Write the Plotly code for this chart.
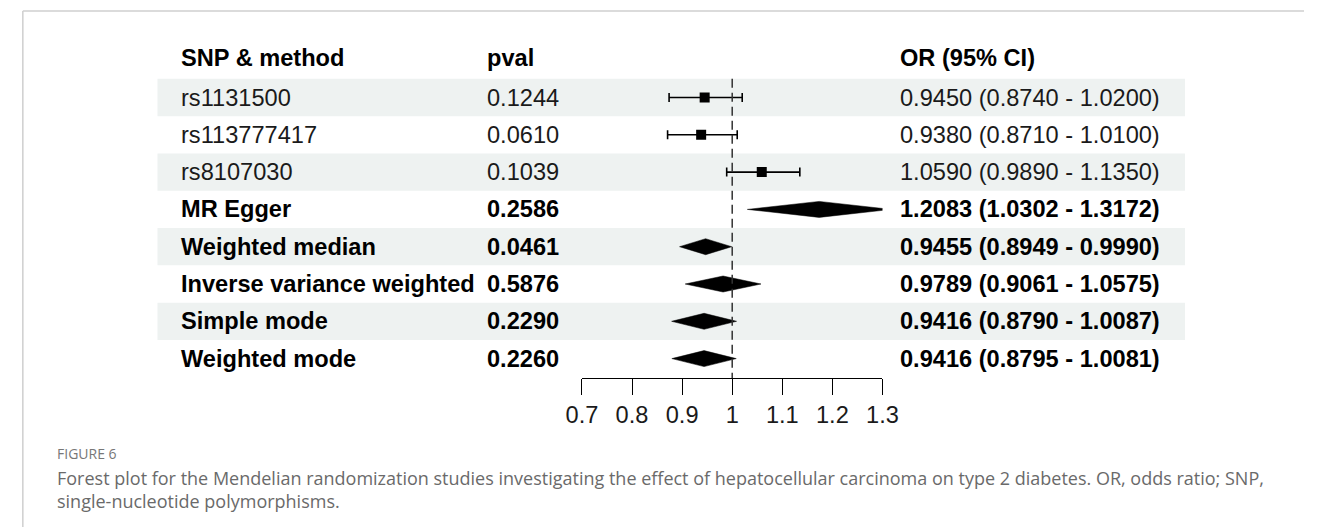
import plotly.graph_objects as go

# ---------------- data ----------------
labels = ["rs1131500", "rs113777417", "rs8107030", "MR Egger", "Weighted median",
          "Inverse variance weighted", "Simple mode", "Weighted mode"]
pvals = ["0.1244", "0.0610", "0.1039", "0.2586", "0.0461", "0.5876", "0.2290", "0.2260"]
or_est = [0.9450, 0.9380, 1.0590, 1.2083, 0.9455, 0.9789, 0.9416, 0.9416]
or_lo = [0.8740, 0.8710, 0.9890, 1.0302, 0.8949, 0.9061, 0.8790, 0.8795]
or_hi = [1.0200, 1.0100, 1.1350, 1.3172, 0.9990, 1.0575, 1.0087, 1.0081]
is_method = [False, False, False, True, True, True, True, True]
headers = ["SNP & method", "pval", "OR (95% CI)"]
tick_vals = [0.7, 0.8, 0.9, 1.0, 1.1, 1.2, 1.3]
tick_text = ["0.7", "0.8", "0.9", "1", "1.1", "1.2", "1.3"]
caption_head = "FIGURE 6"
caption_lines = ["Forest plot for the Mendelian randomization studies investigating the effect of "
                 "hepatocellular carcinoma on type 2 diabetes. OR, odds ratio; SNP,",
                 "single-nucleotide polymorphisms."]

# ---------------- layout geometry ----------------
W, H = 1320, 529
row_h = 37.3
row0 = 97.5          # pixel centre of first row
axis_px = 378        # pixel of the x axis line
x_left, x_right = 580, 888

def px_to_row(p):
    return (p - row0) / row_h

ydom_bottom = 1 - axis_px / H
y_range = [px_to_row(axis_px), px_to_row(0)]

FONT = "Liberation Sans, Arial, sans-serif"
fs = 23.6
col_x = [167 / W, 481 / W, 903.5 / W]
band_x0, band_x1 = 145 / W, 1198 / W

fig = go.Figure()
shapes = []
annotations = []

for i in range(len(labels)):
    if i % 2 == 0:
        shapes.append(dict(type="rect", xref="paper", yref="y", x0=band_x0, x1=band_x1,
                           y0=i - 0.5, y1=i + 0.5, fillcolor="#eef2f1", line_width=0,
                           layer="below"))

shapes.append(dict(type="line", xref="x", yref="y", x0=1, x1=1, y0=-0.5, y1=y_range[0],
                   line=dict(color="#333333", width=1.5, dash="9px,5px")))

# frame
shapes.append(dict(type="line", xref="paper", yref="paper", x0=7 / W, x1=1,
                   y0=1 - 11 / H, y1=1 - 11 / H, line=dict(color="#cfcfcf", width=1.5)))
shapes.append(dict(type="line", xref="paper", yref="paper", x0=7 / W, x1=7 / W,
                   y0=1 - 527 / H, y1=1 - 11 / H, line=dict(color="#cfcfcf", width=1.5)))

snp_idx = [i for i, m in enumerate(is_method) if not m]
fig.add_trace(go.Scatter(
    x=[or_est[i] for i in snp_idx], y=snp_idx, mode="markers",
    marker=dict(symbol="square", size=10, color="black"),
    error_x=dict(type="data", symmetric=False,
                 array=[or_hi[i] - or_est[i] for i in snp_idx],
                 arrayminus=[or_est[i] - or_lo[i] for i in snp_idx],
                 color="black", thickness=1.6, width=4.5),
    showlegend=False, hoverinfo="skip"))

hh = 8 / row_h
for i, m in enumerate(is_method):
    if m:
        mid = (or_lo[i] + or_hi[i]) / 2
        fig.add_trace(go.Scatter(
            x=[or_lo[i], mid, or_hi[i], mid, or_lo[i]],
            y=[i, i - hh, i, i + hh, i],
            mode="lines", fill="toself", fillcolor="black",
            line=dict(color="black", width=0.5),
            showlegend=False, hoverinfo="skip"))

for cx, h in zip(col_x, headers):
    annotations.append(dict(text=f"<b>{h}</b>", xref="paper", yref="y", x=cx, y=-1.06,
                            xanchor="left", yanchor="middle", showarrow=False,
                            font=dict(family=FONT, size=fs, color="black")))
for i in range(len(labels)):
    ci = f"{or_est[i]:.4f} ({or_lo[i]:.4f} - {or_hi[i]:.4f})"
    for cx, t in zip(col_x, [labels[i], pvals[i], ci]):
        txt = f"<b>{t}</b>" if is_method[i] else t
        annotations.append(dict(text=txt, xref="paper", yref="y", x=cx, y=i,
                                xanchor="left", yanchor="middle", showarrow=False,
                                font=dict(family=FONT, size=fs,
                                          color="black" if is_method[i] else "#1a1a1a")))

cap_font = "Open Sans, Lato, sans-serif"
annotations.append(dict(text=caption_head, xref="paper", yref="paper", x=40 / W,
                        y=1 - 453 / H, xanchor="left", yanchor="middle", showarrow=False,
                        font=dict(family=cap_font, size=14, color="#777777")))
annotations.append(dict(text="<br>".join(caption_lines), xref="paper", yref="paper",
                        x=40 / W, y=1 - 489 / H, xanchor="left", yanchor="middle",
                        align="left", showarrow=False,
                        font=dict(family=cap_font, size=18, color="#6a6a6a")))

fig.update_layout(
    width=W, height=H, margin=dict(l=0, r=0, t=0, b=0),
    paper_bgcolor="white", plot_bgcolor="rgba(0,0,0,0)",
    shapes=shapes, annotations=annotations,
    xaxis=dict(domain=[x_left / W, x_right / W], range=[0.7, 1.3],
               tickvals=tick_vals, ticktext=tick_text, showgrid=False, zeroline=False,
               showline=True, linecolor="black", linewidth=1,
               ticks="outside", ticklen=16, tickwidth=1, tickcolor="black",
               tickfont=dict(family=FONT, size=fs, color="#1a1a1a")),
    yaxis=dict(domain=[ydom_bottom, 1], range=y_range, visible=False,
               showgrid=False, zeroline=False),
)

fig.write_html("out.html")
